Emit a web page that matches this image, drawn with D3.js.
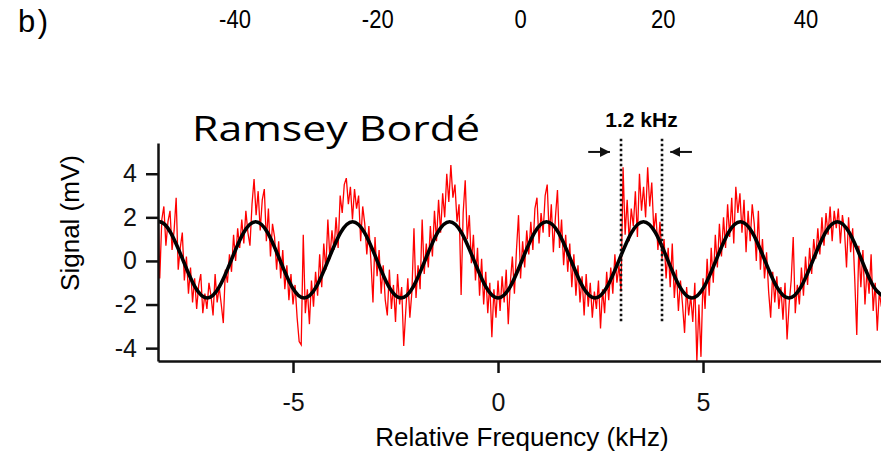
<!DOCTYPE html>
<html>
<head>
<meta charset="utf-8">
<script src="https://cdn.jsdelivr.net/npm/d3@7"></script>
<style>
body{margin:0;background:#fff;}
svg{display:block;font-family:"Liberation Sans",Arial,sans-serif;}
.axis path,.axis line{stroke:#111;stroke-width:2.5;}
.axis text{font-family:"Liberation Sans",Arial,sans-serif;font-size:25px;fill:#111;}
</style>
</head>
<body>
<div id="chart"></div>
<script>
// tick labels of the panel above (only its bottom row is visible)
var topTicks = [-40, -20, 0, 20, 40];
var xTicks = [-5, 0, 5];
var yTicks = [-4, -2, 0, 2, 4];

// measured trace, sampled every 0.05 kHz from -8.30 kHz (mV)
var freqStart = -8.30, freqStep = 0.05;
var signal = [
	2.9, -0.8, 1.9, 2.5, 0.7, 1.8, 2.3, 0.5, 1.4, 2.9, -0.4, 0.6, 1.3, -0.9, 0.2, -1.5, -0.3, -1.9, -0.8, -2.2, -1.1, -0.6, -2.4, -1.5,
	-2.2, -1.0, -1.6, -2.5, -0.6, -1.9, -1.2, -2.0, -2.85, -0.4, -1.0, 0.3, -0.5, 1.2, 0.0, 1.5, 0.6, 1.9, 0.8, 2.3, 1.3, 0.7, 2.6, 3.76,
	2.1, 3.2, 1.4, 2.8, 3.3, 0.9, 2.4, 0.2, 1.7, 1.1, -0.4, 0.9, -0.8, 0.5, -1.3, -0.2, -1.8, -0.6, -2.0, -1.1, -2.6, -3.7, -3.85, 1.2,
	-2.4, -1.3, -2.9, -0.9, -2.1, -0.5, -1.6, 0.3, -1.2, 0.8, -0.4, 1.9, 0.1, 1.4, 0.5, 2.0, 0.6, 3.0, 2.2, 3.5, 3.8, 2.6, 3.4, 1.9,
	3.3, 2.4, 3.0, 0.9, 2.5, 1.7, 0.3, 1.6, 0.0, -1.9, 1.1, -0.7, 0.5, -1.5, -0.2, -1.8, -2.5, -0.4, -2.2, -1.1, -2.8, -0.6, -2.0,
	-1.2, -3.9, -2.3, -0.8, -2.6, -1.4, 1.5, -1.7, -0.2, -1.3, 1.9, -0.6, 0.8, -0.3, 1.6, 0.2, 2.3, 0.9, 2.8, 1.3, 3.1, 2.0, 4.0, 2.7,
	4.4, 2.9, 3.5, 1.8, 2.6, -1.56, 2.2, 3.7, 1.0, 2.1, -0.1, 1.2, -0.9, 0.6, -1.6, 0.1, -2.0, -0.5, -2.4, -1.0, -3.5, -1.3, -2.6, -0.9,
	-2.3, -0.7, -1.9, -0.4, -2.9, -1.0, 0.2, -1.5, 0.5, 2.1, -0.8, 0.9, -0.3, 1.4, 0.3, 1.8, 0.5, 2.4, 2.9, 0.8, 2.2, 1.3, 3.0,
	3.5, 1.1, 2.6, 0.4, 2.0, 3.25, 0.6, 1.9, -0.2, 1.2, -0.5, 0.8, -1.2, 0.3, -1.6, -0.2, -1.9, -0.7, -2.5, -0.6, -2.1, -1.0, -2.6, -1.4,
	-2.2, -0.9, -3.1, -1.3, -2.4, -0.5, -1.8, -0.3, -1.5, 0.3, -1.0, -0.2, -1.4, 4.3, 1.2, 2.8, 0.9, 2.4, 1.6, 3.2, 1.1, 4.0, 2.3, 3.4,
	2.0, 4.3, 2.5, 3.6, 1.4, 2.2, 0.5, 1.8, 0.1, 1.0, -0.8, 0.6, -1.2, 0.8, -1.7, -0.4, -2.3, -0.9, -2.0, -3.3, -1.2, -2.5, -1.6,
	-2.8, -1.0, -4.6, -2.0, -4.4, -0.8, -2.2, 0.1, -1.6, 0.6, -1.0, 1.2, -0.3, 1.7, 0.2, 2.0, 0.6, 2.6, 1.1, 2.9, 0.8, 3.4, 2.2, 3.1,
	1.3, 2.8, 0.4, 2.3, 0.9, 2.6, 1.7, 0.0, 2.3, -0.4, 1.0, -0.8, 0.4, -1.4, -2.6, -0.5, -1.9, -0.7, -2.2, -1.2, -2.7, -1.0, -3.6,
	-2.0, -0.9, 1.1, -2.4, -1.1, -2.0, -0.3, -1.6, 0.2, -1.1, 0.6, -0.6, 1.0, 0.1, 1.5, 0.3, 2.0, 0.7, 2.2, 1.2, 2.5, 0.9, 2.3, 1.5,
	2.4, 0.8, 2.1, 1.4, -0.3, 2.0, 0.4, 1.5, -0.8, -3.4, 0.7, -1.2, 0.5, -2.0, -0.4, -1.5, 0.3, -2.3, -1.0, -3.2, -1.4, -2.1
];

// fitted fringe curve, points read every 1/8 period
var fitFreq = [
	-8.572, -8.277, -7.981, -7.686, -7.390, -7.094, -6.799, -6.503, -6.208, -5.912, -5.616, -5.321, -5.025, -4.730, -4.434,
	-4.138, -3.843, -3.547, -3.252, -2.956, -2.660, -2.365, -2.069, -1.774, -1.478, -1.182, -0.887, -0.591, -0.296, 0,
	0.296, 0.591, 0.887, 1.182, 1.478, 1.774, 2.069, 2.365, 2.660, 2.956, 3.252, 3.547, 3.843, 4.138, 4.434, 4.730,
	5.025, 5.321, 5.616, 5.912, 6.208, 6.503, 6.799, 7.094, 7.390, 7.686, 7.981, 8.277, 8.572, 8.868, 9.163, 9.459
];
var fitSignal = [
	1.29, 1.80, 1.29, 0.05, -1.19, -1.70, -1.19, 0.05,
	1.29, 1.80, 1.29, 0.05, -1.19, -1.70, -1.19, 0.05,
	1.29, 1.80, 1.29, 0.05, -1.19, -1.70, -1.19, 0.05,
	1.29, 1.80, 1.29, 0.05, -1.19, -1.70, -1.19, 0.05,
	1.29, 1.80, 1.29, 0.05, -1.19, -1.70, -1.19, 0.05,
	1.29, 1.80, 1.29, 0.05, -1.19, -1.70, -1.19, 0.05,
	1.29, 1.80, 1.29, 0.05, -1.19, -1.70, -1.19, 0.05,
	1.29, 1.80, 1.29, 0.05, -1.19, -1.70
];

// dotted markers and the label between them
var markerFreq = [3.0, 4.0];
var markerLabel = "1.2 kHz";

var width = 881, height = 453;
var margin = {top: 143, right: 0, bottom: 92, left: 158},
	w = width - margin.left - margin.right,
	h = height - margin.top - margin.bottom;

var x = d3.scaleLinear().domain([-8.293, 9.341]).range([0, w]);
var y = d3.scaleLinear().domain([-4.59, 5.41]).range([h, 0]);
var xTop = d3.scaleLinear().domain([-40, 40]).range([235, 806]);

var svg = d3.select("#chart").append("svg")
	.attr("width", width)
	.attr("height", height);

svg.append("defs").append("clipPath")
	.attr("id", "plotClip")
  .append("rect")
	.attr("x", 0).attr("y", -2)
	.attr("width", w).attr("height", h + 3);

svg.append("defs").append("marker")
	.attr("id", "head")
	.attr("viewBox", "0 0 10 10")
	.attr("refX", 10).attr("refY", 5)
	.attr("markerWidth", 5).attr("markerHeight", 5)
	.attr("markerUnits", "strokeWidth")
	.attr("orient", "auto")
  .append("path")
	.attr("d", "M0,0L10,5L0,10z")
	.attr("fill", "#111");

// panel label and the tick row of the panel above
svg.append("text")
	.attr("x", 18).attr("y", 32)
	.attr("textLength", 30)
	.style("font-size", "31px")
	.text("b)");

svg.selectAll(".topTick")
	.data(topTicks)
  .enter().append("text")
	.attr("class", "topTick")
	.attr("transform", function(d){ return "translate(" + xTop(d) + ",28) scale(0.88,1)"; })
	.attr("text-anchor", "middle")
	.style("font-size", "25px")
	.text(function(d){ return d; });

var g = svg.append("g")
	.attr("transform", "translate(" + margin.left + "," + margin.top + ")");

var line = d3.line()
	.x(function(d, i){ return x(freqStart + i * freqStep); })
	.y(function(d){ return y(d); });

var fitLine = d3.line()
	.curve(d3.curveNatural)
	.x(function(d){ return x(d); })
	.y(function(d, i){ return y(fitSignal[i]); });

var plot = g.append("g").attr("clip-path", "url(#plotClip)");

plot.append("path")
	.attr("d", line(signal))
	.attr("fill", "none")
	.attr("stroke", "#f00")
	.attr("stroke-width", 1.3);

plot.append("path")
	.attr("d", fitLine(fitFreq))
	.attr("fill", "none")
	.attr("stroke", "#000")
	.attr("stroke-width", 3.6);

// dotted markers
g.selectAll(".marker")
	.data(markerFreq)
  .enter().append("line")
	.attr("class", "marker")
	.attr("x1", function(d){ return x(d); })
	.attr("x2", function(d){ return x(d); })
	.attr("y1", y(5.6))
	.attr("y2", y(-2.8))
	.attr("stroke", "#111")
	.attr("stroke-width", 2.6)
	.attr("stroke-dasharray", "2.4,2.6");

// arrows pointing at the markers
var arrows = [[2.2, 2.73], [4.73, 4.2]];
g.selectAll(".arrow")
	.data(arrows)
  .enter().append("line")
	.attr("class", "arrow")
	.attr("x1", function(d){ return x(d[0]); })
	.attr("x2", function(d){ return x(d[1]); })
	.attr("y1", y(5.0))
	.attr("y2", y(5.0))
	.attr("stroke", "#111")
	.attr("stroke-width", 2)
	.attr("marker-end", "url(#head)");

g.append("text")
	.attr("x", x(d3.mean(markerFreq)))
	.attr("y", y(6.15))
	.attr("text-anchor", "middle")
	.style("font-size", "21px")
	.style("font-weight", "bold")
	.text(markerLabel);

g.append("g")
	.attr("class", "x axis")
	.attr("transform", "translate(0," + h + ")")
	.call(d3.axisBottom(x).tickValues(xTicks).tickSize(12).tickSizeOuter(0).tickPadding(20)
		.tickFormat(function(d){ return d; }));

g.append("g")
	.attr("class", "y axis")
	.call(d3.axisLeft(y).tickValues(yTicks).tickSize(12).tickSizeOuter(0).tickPadding(9)
		.tickFormat(function(d){ return d; }));

g.append("text")
	.attr("transform", "translate(" + (79 - margin.left) + "," + (223 - margin.top) + ") rotate(-90)")
	.attr("text-anchor", "middle")
	.style("font-size", "26px")
	.text("Signal (mV)");

g.append("text")
	.attr("x", 522 - margin.left)
	.attr("y", 446 - margin.top)
	.attr("text-anchor", "middle")
	.style("font-size", "26px")
	.text("Relative Frequency (kHz)");

// title sits over the plot
svg.append("text")
	.attr("x", 336).attr("y", 141)
	.attr("text-anchor", "middle")
	.attr("textLength", 288)
	.attr("lengthAdjust", "spacingAndGlyphs")
	.style("font-family", "'Open Sans','Noto Sans',sans-serif")
	.style("font-size", "35px")
	.text("Ramsey Bordé");
</script>
</body>
</html>
